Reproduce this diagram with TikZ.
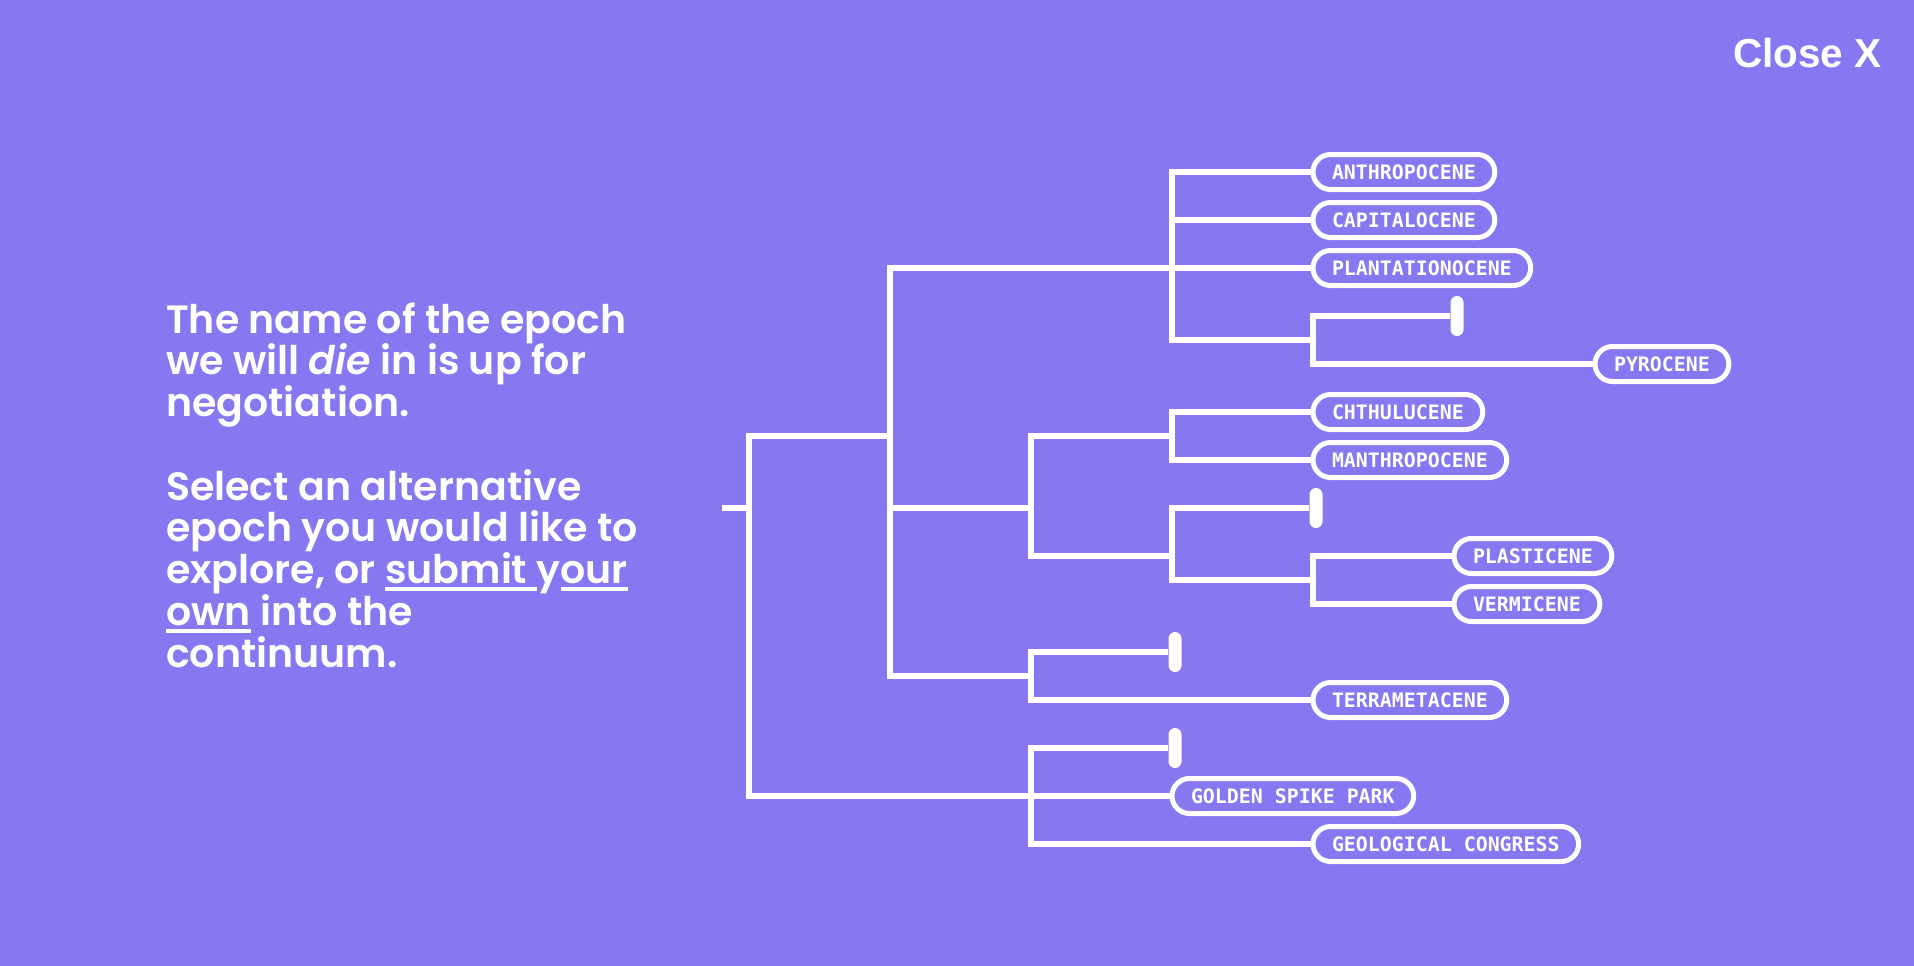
\documentclass[tikz,border=0pt]{standalone}
\usepackage{fontspec}
\newfontfamily\bodyfont{Poppins SemiBold}[ItalicFont={Poppins SemiBold Italic}]
\newfontfamily\closefont{Liberation Sans}
\newfontfamily\pillfont{DejaVu Sans Mono}
\definecolor{bgc}{RGB}{133,120,240}
\newcommand\myul[1]{\setbox0\hbox{#1}\rlap{\rule[-7.8pt]{\wd0}{4.5pt}}\box0\relax}
\begin{document}
\begin{tikzpicture}[x=1pt,y=-1pt,
  conn/.style={draw=white,line width=5.5pt,line join=miter},
  pill/.style={draw=white,line width=5pt,rounded corners=17.5pt,minimum height=35pt,inner xsep=19pt,inner ysep=0pt,text=white,font=\pillfont\bfseries\fontsize{19.9}{20}\selectfont,text height=14.5pt,text depth=0pt,anchor=west,fill=bgc},
  stopbar/.style={fill=white,minimum width=13pt,minimum height=40pt,inner sep=0pt,rounded corners=6.5pt},
  body/.style={anchor=base west,inner sep=0pt,text=white,font=\bodyfont\fontsize{39.5}{42}\selectfont}]
\fill[bgc] (0,0) rectangle (1914,966);
\useasboundingbox (0,0) rectangle (1914,966);

% close
\node[anchor=base west,inner sep=0pt,text=white,font=\closefont\bfseries\fontsize{40.5}{44}\selectfont] (close) at (1733,67) {Close X};

% left text
\node[body] (t1) at (166,333) {The name of the epoch};
\node[body] (t2) at (166,374.75) {we will \textit{die} in is up for};
\node[body] (t3) at (166,416.5) {negotiation.};
\node[body] (t4) at (166,500) {Select an alternative};
\node[body] (t5) at (166,541.75) {epoch you would like to};
\node[body] (t6) at (166,583.5) {explore, or \myul{submit }y\myul{our}};
\node[body] (t7) at (166,625.25) {\myul{own} into the};
\node[body] (t8) at (166,667) {continuum.};

% junctions
\coordinate (stub) at (722,508);
\coordinate (jR) at (749,508);
\coordinate (jA) at (890,436);
\coordinate (jA1) at (1172,268);
\coordinate (jA1b) at (1313,340);
\coordinate (jA2) at (1031,508);
\coordinate (jA2a) at (1172,436);
\coordinate (jA2b) at (1172,556);
\coordinate (jA2bb) at (1313,580);
\coordinate (jA3) at (1031,676);
\coordinate (jB) at (1031,796);

% pills
\node[pill] (anth) at (1310.5,172) {ANTHROPOCENE};
\node[pill] (capi) at (1310.5,220) {CAPITALOCENE};
\node[pill] (plan) at (1310.5,268) {PLANTATIONOCENE};
\node[pill] (pyro) at (1592.5,364) {PYROCENE};
\node[pill] (chth) at (1310.5,412) {CHTHULUCENE};
\node[pill] (mant) at (1310.5,460) {MANTHROPOCENE};
\node[pill] (plas) at (1451.5,556) {PLASTICENE};
\node[pill] (verm) at (1451.5,604) {VERMICENE};
\node[pill] (terr) at (1310.5,700) {TERRAMETACENE};
\node[pill] (gold) at (1169.5,796) {GOLDEN SPIKE PARK};
\node[pill] (geol) at (1310.5,844) {GEOLOGICAL CONGRESS};

% stop bars
\node[stopbar] (bar1) at (1457,316) {};
\node[stopbar] (bar2) at (1316,508) {};
\node[stopbar] (bar3) at (1175,652) {};
\node[stopbar] (bar4) at (1175,748) {};

% connectors
\draw[conn] (stub) -- (jR);
\draw[conn] (jR) |- (jA);
\draw[conn] (jR) |- (jB);
\draw[conn] (jA) |- (jA1);
\draw[conn] (jA) |- (jA2);
\draw[conn] (jA) |- (jA3);
\draw[conn] (jA1) |- (anth.west);
\draw[conn] (jA1) |- (capi.west);
\draw[conn] (jA1) -- (plan.west);
\draw[conn] (jA1) |- (jA1b);
\draw[conn] (jA1b) |- (bar1.west);
\draw[conn] (jA1b) |- (pyro.west);
\draw[conn] (jA2) |- (jA2a);
\draw[conn] (jA2) |- (jA2b);
\draw[conn] (jA2a) |- (chth.west);
\draw[conn] (jA2a) |- (mant.west);
\draw[conn] (jA2b) |- (bar2.west);
\draw[conn] (jA2b) |- (jA2bb);
\draw[conn] (jA2bb) |- (plas.west);
\draw[conn] (jA2bb) |- (verm.west);
\draw[conn] (jA3) |- (bar3.west);
\draw[conn] (jA3) |- (terr.west);
\draw[conn] (jB) |- (bar4.west);
\draw[conn] (jB) -- (gold.west);
\draw[conn] (jB) |- (geol.west);
\end{tikzpicture}
\end{document}
